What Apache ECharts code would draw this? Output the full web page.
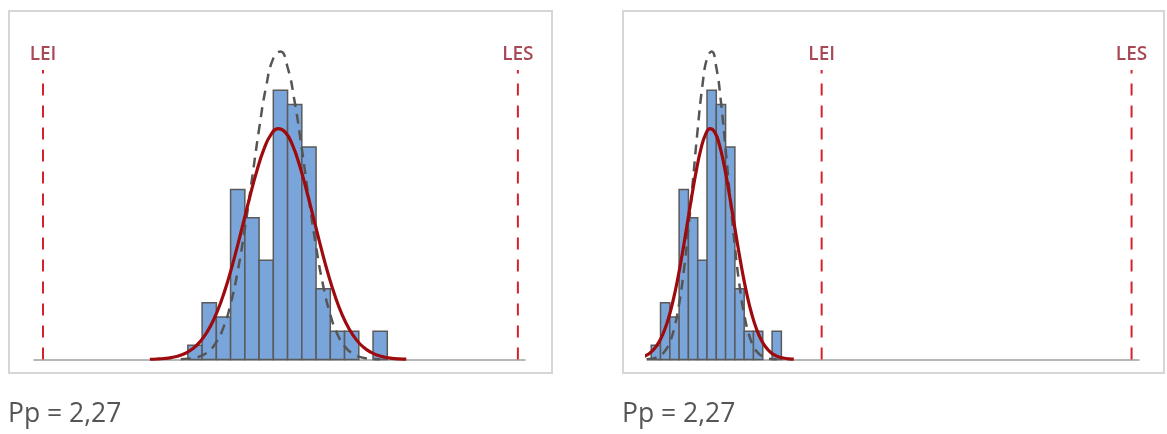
<!DOCTYPE html>
<html>
<head>
<meta charset="utf-8">
<script src="https://cdn.jsdelivr.net/npm/echarts@6/dist/echarts.min.js"></script>
<style>
html,body{margin:0;padding:0;background:#fff;}
#chart{width:1167px;height:434px;}
</style>
</head>
<body>
<div id="chart"></div>
<script>
// Histogram bins (start, end) and counts
const binStarts = [30.5, 33.5, 36.5, 39.5, 42.5, 45.5, 48.5, 51.5, 54.5, 57.5, 60.5, 63.5, 66.5, 69.5];
const binWidth = 3;
const counts = [1, 4, 3, 12, 10, 7, 19, 18, 15, 5, 2, 2, 0, 2];

// Overall fitted curve (solid red)
const overallX = [22.5, 24, 25.5, 27, 28.5, 30, 31.5, 33, 34.5, 36, 37.5, 39, 40.5, 42, 43.5, 45, 46.5, 48, 49.5, 51, 52.5, 54, 55.5, 57, 58.5, 60, 61.5, 63, 64.5, 66, 67.5, 69, 70.5, 72, 73.5, 75, 76.5];
const overallY = [0.017, 0.035, 0.071, 0.137, 0.252, 0.444, 0.754, 1.225, 1.910, 2.856, 4.096, 5.635, 7.431, 9.402, 11.408, 13.278, 14.823, 15.868, 16.294, 16.046, 15.156, 13.730, 11.928, 9.940, 7.945, 6.090, 4.478, 3.156, 2.135, 1.385, 0.861, 0.514, 0.294, 0.161, 0.085, 0.043, 0.021];

// Within fitted curve (dashed grey)
const withinX = [29, 30.5, 32, 33.5, 35, 36.5, 38, 39.5, 41, 42.5, 44, 45.5, 47, 48.5, 50, 51.5, 53, 54.5, 56, 57.5, 59, 60.5, 62, 63.5, 65, 66.5, 68, 69.5, 71];
const withinY = [0.018, 0.049, 0.123, 0.284, 0.612, 1.221, 2.265, 3.898, 6.228, 9.237, 12.719, 16.257, 19.290, 21.248, 21.728, 20.625, 18.175, 14.869, 11.291, 7.960, 5.209, 3.166, 1.785, 0.934, 0.454, 0.205, 0.086, 0.033, 0.012];

// Specification limits per panel
const specNames = ['LEI', 'LES'];
const specLeft = [0, 100];
const specRight = [85.5, 185.5];
const specLineTop = 20.43;
const specLabelY = 21.5;

const ppText = 'Pp = 2,27';

const chart = echarts.init(document.getElementById('chart'), null, {renderer: 'canvas'});

const grids = [
  {left: 34, top: 19.4, width: 491, height: 340.1},
  {left: 647.5, top: 19.4, width: 491.5, height: 340.1}
];
const xRanges = [[-1.9, 101.5], [29.3, 187.9]];
const specs = [specLeft, specRight];

const histData = binStarts.map((s, i) => [s, s + binWidth, counts[i]]);
const overallData = overallX.map((x, i) => [x, overallY[i]]);
const withinData = withinX.map((x, i) => [x, withinY[i]]);

const xAxes = [], yAxes = [], series = [];
for (let g = 0; g < 2; g++) {
  xAxes.push({
    type: 'value', gridIndex: g, min: xRanges[g][0], max: xRanges[g][1],
    axisLine: {show: true, onZero: false, lineStyle: {color: '#a0a0a0', width: 1.5}},
    axisTick: {show: false}, axisLabel: {show: false}, splitLine: {show: false}
  });
  yAxes.push({
    type: 'value', gridIndex: g, min: 0, max: 24,
    axisLine: {show: false}, axisTick: {show: false}, axisLabel: {show: false}, splitLine: {show: false}
  });
  series.push({
    type: 'custom', xAxisIndex: g, yAxisIndex: g, data: histData, z: 2,
    renderItem: function (params, api) {
      const c = api.value(2);
      if (!c) return null;
      const p0 = api.coord([api.value(0), c]);
      const p1 = api.coord([api.value(1), 0]);
      return {
        type: 'rect',
        shape: {x: p0[0], y: p0[1], width: p1[0] - p0[0], height: p1[1] - p0[1]},
        style: {fill: '#7aa5da', stroke: '#5a5a5a', lineWidth: 1.5}
      };
    }
  });
  series.push({
    type: 'line', xAxisIndex: g, yAxisIndex: g, data: withinData, smooth: true,
    showSymbol: false, symbol: 'none', z: 3, clip: true,
    lineStyle: {color: '#555555', width: 2.5, type: [10, 7]}
  });
  series.push({
    type: 'line', xAxisIndex: g, yAxisIndex: g, data: overallData, smooth: true,
    showSymbol: false, symbol: 'none', z: 4, clip: true,
    lineStyle: {color: '#9e0b0f', width: 3.2}
  });
  for (let k = 0; k < 2; k++) {
    series.push({
      type: 'line', xAxisIndex: g, yAxisIndex: g, z: 5,
      data: [[specs[g][k], 0], [specs[g][k], specLineTop]],
      showSymbol: false, symbol: 'none',
      lineStyle: {color: '#d8202c', width: 2, type: [12, 10]}
    });
    series.push({
      type: 'scatter', xAxisIndex: g, yAxisIndex: g, z: 5,
      data: [[specs[g][k], specLabelY]], symbolSize: 0,
      label: {show: true, position: 'inside', formatter: specNames[k],
        fontFamily: 'Open Sans', fontSize: 19, fontWeight: 600, color: '#931a2c'}
    });
  }
}

chart.setOption({
  animation: false,
  backgroundColor: '#ffffff',
  grid: grids,
  xAxis: xAxes,
  yAxis: yAxes,
  series: series,
  graphic: [
    {type: 'rect', shape: {x: 9, y: 11, width: 543, height: 362}, style: {fill: 'none', stroke: '#d6d6d6', lineWidth: 2}, silent: true},
    {type: 'rect', shape: {x: 623, y: 11, width: 541, height: 362}, style: {fill: 'none', stroke: '#d6d6d6', lineWidth: 2}, silent: true},
    {type: 'text', left: 8, top: 401, style: {text: ppText, font: '26.5px "Open Sans"', fill: '#555555'}},
    {type: 'text', left: 622, top: 401, style: {text: ppText, font: '26.5px "Open Sans"', fill: '#555555'}}
  ]
});
</script>
</body>
</html>
